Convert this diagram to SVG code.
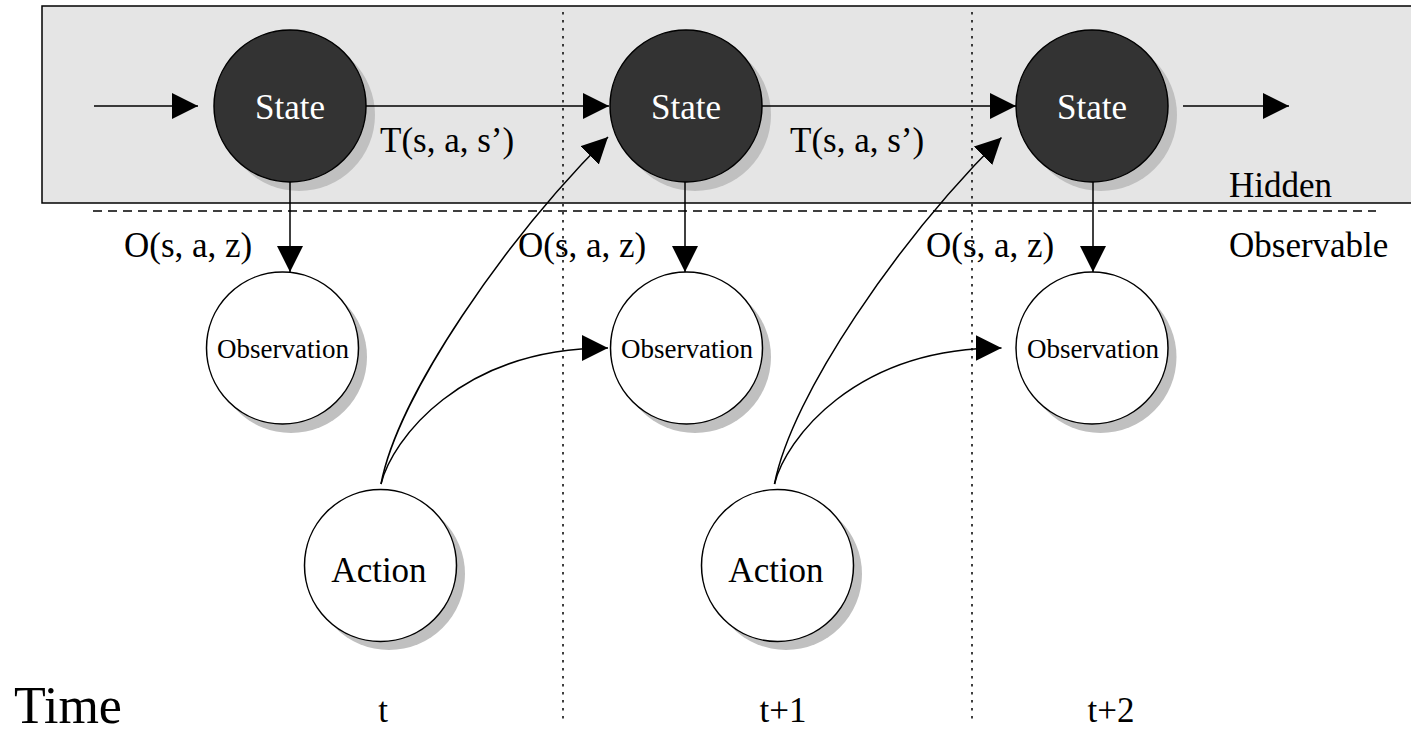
<svg xmlns="http://www.w3.org/2000/svg" width="1411" height="734" viewBox="0 0 1411 734" font-family="'Liberation Serif', 'Times New Roman', serif">
  <defs>
    <marker id="arrow" viewBox="0 0 26 26" refX="26" refY="13" markerWidth="26" markerHeight="26" markerUnits="userSpaceOnUse" orient="auto">
      <path d="M0,0 L26,13 L0,26 Z" fill="#000"/>
    </marker>
  </defs>
  <style>
    text { font-family: "Liberation Serif", "Times New Roman", serif; fill: #000; }
    .lbl { font-family: "Liberation Serif", "Times New Roman", serif; font-size: 35px; }
    .node-label { font-family: "Liberation Serif", "Times New Roman", serif; font-size: 35px; text-anchor: middle; }
    .obs-label { font-family: "Liberation Serif", "Times New Roman", serif; font-size: 27px; text-anchor: middle; }
    .state .body { fill: #333333; stroke: #000; stroke-width: 1.5; }
    .state text { fill: #ffffff; }
    .plain .body { fill: #ffffff; stroke: #000; stroke-width: 1.5; }
    .shadow { fill: #c0c0c0; }
    .edge { fill: none; stroke: #000; stroke-width: 1.5; marker-end: url(#arrow); }
    .divider { stroke: #000; stroke-width: 1.3; stroke-dasharray: 9 6; }
    .step { stroke: #000; stroke-width: 1.5; stroke-dasharray: 2.5 5.5; }
  </style>

  <!-- hidden layer band -->
  <rect x="42" y="6" width="1380" height="197" fill="#e5e5e5" stroke="#000" stroke-width="1.5"/>
  <line class="divider" x1="93" y1="211" x2="1376" y2="211"/>
  <text class="lbl" x="1229" y="197">Hidden</text>
  <text class="lbl" x="1229" y="257">Observable</text>

  <!-- nodes -->
  <g id="state1" class="state">
    <circle class="shadow" cx="299" cy="115" r="76"/>
    <circle class="body" cx="290" cy="106" r="76"/>
    <text class="node-label" x="290" y="119">State</text>
  </g>
  <g id="state2" class="state">
    <circle class="shadow" cx="695" cy="115" r="76"/>
    <circle class="body" cx="686" cy="106" r="76"/>
    <text class="node-label" x="686" y="119">State</text>
  </g>
  <g id="state3" class="state">
    <circle class="shadow" cx="1101" cy="115" r="76"/>
    <circle class="body" cx="1092" cy="106" r="76"/>
    <text class="node-label" x="1092" y="119">State</text>
  </g>

  <g id="observation1" class="plain">
    <circle class="shadow" cx="291" cy="357" r="76"/>
    <circle class="body" cx="282.5" cy="348" r="76"/>
    <text class="obs-label" x="283" y="357.5">Observation</text>
  </g>
  <g id="observation2" class="plain">
    <circle class="shadow" cx="695" cy="357" r="76"/>
    <circle class="body" cx="686.5" cy="348" r="76"/>
    <text class="obs-label" x="687" y="357.5">Observation</text>
  </g>
  <g id="observation3" class="plain">
    <circle class="shadow" cx="1100.5" cy="357" r="76"/>
    <circle class="body" cx="1092" cy="348" r="76"/>
    <text class="obs-label" x="1093" y="357.5">Observation</text>
  </g>

  <g id="action1" class="plain">
    <circle class="shadow" cx="389" cy="574" r="76"/>
    <circle class="body" cx="380.5" cy="565.5" r="76"/>
    <text class="node-label" x="379" y="581.5">Action</text>
  </g>
  <g id="action2" class="plain">
    <circle class="shadow" cx="786" cy="574" r="76"/>
    <circle class="body" cx="777.5" cy="565.5" r="76"/>
    <text class="node-label" x="776" y="581.5">Action</text>
  </g>

  <!-- connectors -->
  <g id="connectors">
    <path class="edge" d="M94,106 H198"/>
    <path class="edge" d="M366,106 H609"/>
    <path class="edge" d="M762,106 H1016"/>
    <path class="edge" d="M1183,106 H1289"/>
    <path class="edge" d="M290,182 V272"/>
    <path class="edge" d="M685,182 V272"/>
    <path class="edge" d="M1093,182 V272"/>
    <path class="edge" d="M381,484 C398,395 505,240 608,137"/>
    <path class="edge" d="M381,484 C392,440 460,348 608,348"/>
    <path class="edge" d="M774.5,484 C791.5,395 898.5,240 1001.5,137.5"/>
    <path class="edge" d="M774.5,484 C785.5,440 853.5,348 1001.5,348"/>
  </g>

  <!-- edge labels -->
  <text class="lbl" x="380" y="152">T(s, a, s’)</text>
  <text class="lbl" x="790" y="152">T(s, a, s’)</text>
  <text class="lbl" x="124" y="257">O(s, a, z)</text>
  <text class="lbl" x="518" y="257">O(s, a, z)</text>
  <text class="lbl" x="926" y="257">O(s, a, z)</text>

  <!-- time steps -->
  <line class="step" x1="563" y1="12" x2="563" y2="724"/>
  <line class="step" x1="972" y1="12" x2="972" y2="724"/>
  <text x="14" y="723" font-size="52">Time</text>
  <text class="lbl" x="383" y="722" text-anchor="middle">t</text>
  <text class="lbl" x="783" y="722" text-anchor="middle">t+1</text>
  <text class="lbl" x="1111" y="722" text-anchor="middle">t+2</text>
</svg>
